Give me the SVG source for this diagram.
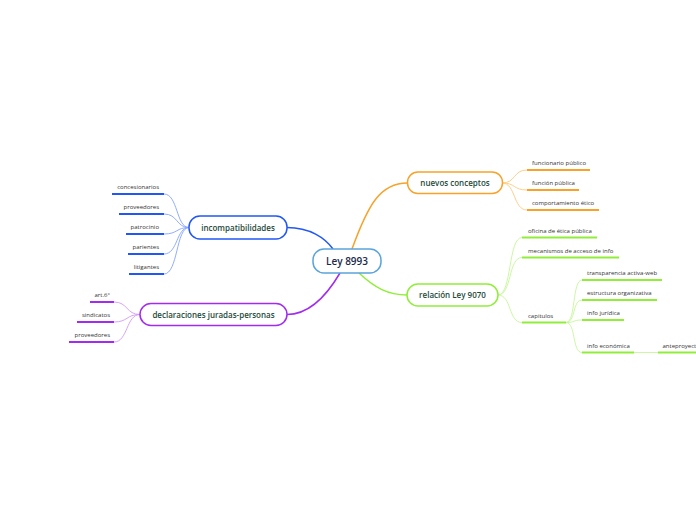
<svg xmlns="http://www.w3.org/2000/svg" width="696" height="520" viewBox="0 0 696 520">
<style>
.bg{fill:#ffffff}
.node{fill:#ffffff;stroke-width:1.5}
.main{font-family:"Open Sans","Noto Sans",sans-serif;font-size:8px;font-weight:600;fill:#1d4a3a;text-anchor:middle}
.root{font-family:"Open Sans","Noto Sans",sans-serif;font-size:10px;font-weight:600;fill:#1b2a4a;text-anchor:middle}
.leaf{font-family:"Open Sans","Noto Sans",sans-serif;font-size:6px;fill:#333333}
.end{text-anchor:end}
.conn{fill:none;stroke-width:1.5}
.lc{fill:none;stroke-width:0.9}
.ul{fill:none;stroke-width:2}
.blue{stroke:#2257f5}.lblue{stroke:#86a4fb}
.purple{stroke:#a12cf0}.lpurple{stroke:#d39af7}
.orange{stroke:#f8a22a}.lorange{stroke:#fcca7e}
.green{stroke:#90ee3a}.lgreen{stroke:#c6f69a}
</style>
<rect class="bg" x="0" y="0" width="696" height="520"/>
<g id="connectors">
<path class="conn blue" d="M287,227.5 C310,227.5 325,238 333,249"/>
<path class="conn purple" d="M287,314.5 C312,314.5 330,290 340,273"/>
<path class="conn orange" d="M352,249 C368,205 380,183 407.5,183"/>
<path class="conn green" d="M359,273 C375,288 388,295 407,295"/>
<path class="lc lblue" d="M164,194 C178,194 176,227.5 189,227.5"/>
<path class="lc lblue" d="M164,214 C178,214 176,227.5 189,227.5"/>
<path class="lc lblue" d="M164,234 C178,234 176,227.5 189,227.5"/>
<path class="lc lblue" d="M164,254 C178,254 176,227.5 189,227.5"/>
<path class="lc lblue" d="M164,274 C178,274 176,227.5 189,227.5"/>
<path class="lc lpurple" d="M114,302 C128,302 126,314.5 140,314.5"/>
<path class="lc lpurple" d="M114,322 C128,322 126,314.5 140,314.5"/>
<path class="lc lpurple" d="M114,342 C128,342 126,314.5 140,314.5"/>
<path class="lc lorange" d="M502,183 C516,183 513,170 527,170"/>
<path class="lc lorange" d="M502,183 C516,183 513,190 527,190"/>
<path class="lc lorange" d="M502,183 C516,183 513,210 527,210"/>
<path class="lc lgreen" d="M498,295 C512,295 508,237.5 522,237.5"/>
<path class="lc lgreen" d="M498,295 C512,295 508,257.5 522,257.5"/>
<path class="lc lgreen" d="M498,295 C512,295 508,322.5 522,322.5"/>
<path class="lc lgreen" d="M566,322.5 C576,322.5 572,280 582,280"/>
<path class="lc lgreen" d="M566,322.5 C576,322.5 572,300 582,300"/>
<path class="lc lgreen" d="M566,322.5 C576,322.5 572,320 582,320"/>
<path class="lc lgreen" d="M566,322.5 C576,322.5 572,352.5 582,352.5"/>
<path class="lc lgreen" d="M634,352.5 L658,352.5"/>
</g>
<g id="root">
<rect class="node" x="313" y="249" width="68" height="24" rx="11" stroke="#5aa4dc"/>
<text class="root" x="347" y="264.5">Ley 8993</text>
</g>
<g id="incompatibilidades">
<rect class="node blue" x="189" y="216" width="98" height="23" rx="11"/>
<text class="main" x="238" y="230.5">incompatibilidades</text>
</g>
<g id="declaraciones">
<rect class="node purple" x="140" y="303.5" width="147" height="22" rx="11"/>
<text class="main" x="213.5" y="317.5">declaraciones juradas-personas</text>
</g>
<g id="nuevos">
<rect class="node orange" x="407.5" y="172" width="95" height="21.5" rx="10.5"/>
<text class="main" x="455" y="185.8">nuevos conceptos</text>
</g>
<g id="relacion">
<rect class="node green" x="407" y="284" width="91" height="22" rx="11"/>
<text class="main" x="452.5" y="298">relación Ley 9070</text>
</g>
<g id="leaf-concesionarios"><path class="ul blue" d="M112,194 H164"/><text class="leaf end" x="159" y="189">concesionarios</text></g>
<g id="leaf-proveedores1"><path class="ul blue" d="M119,214 H164"/><text class="leaf end" x="159" y="209">proveedores</text></g>
<g id="leaf-patrocinio"><path class="ul blue" d="M126,234 H164"/><text class="leaf end" x="159" y="229">patrocinio</text></g>
<g id="leaf-parientes"><path class="ul blue" d="M128,254 H164"/><text class="leaf end" x="159" y="249">parientes</text></g>
<g id="leaf-litigantes"><path class="ul blue" d="M129,274 H164"/><text class="leaf end" x="159" y="269">litigantes</text></g>
<g id="leaf-art6"><path class="ul purple" d="M90,302 H114"/><text class="leaf end" x="110" y="297">art.6°</text></g>
<g id="leaf-sindicatos"><path class="ul purple" d="M77,322 H114"/><text class="leaf end" x="110" y="317">sindicatos</text></g>
<g id="leaf-proveedores2"><path class="ul purple" d="M69,342 H114"/><text class="leaf end" x="110" y="337">proveedores</text></g>
<g id="leaf-funcionario"><path class="ul orange" d="M527,170 H590"/><text class="leaf" x="532" y="165">funcionario público</text></g>
<g id="leaf-funcion"><path class="ul orange" d="M527,190 H579"/><text class="leaf" x="532" y="185">función pública</text></g>
<g id="leaf-comportamiento"><path class="ul orange" d="M527,210 H599"/><text class="leaf" x="532" y="205">comportamiento ético</text></g>
<g id="leaf-oficina"><path class="ul green" d="M522,237.5 H597"/><text class="leaf" x="528" y="232.5">oficina de ética pública</text></g>
<g id="leaf-mecanismos"><path class="ul green" d="M522,257.5 H619"/><text class="leaf" x="528" y="252.5">mecanismos de acceso de info</text></g>
<g id="leaf-capitulos"><path class="ul green" d="M522,322.5 H566"/><text class="leaf" x="528" y="317.5">capitulos</text></g>
<g id="leaf-transparencia"><path class="ul green" d="M582,280 H662"/><text class="leaf" x="587" y="275">transparencia activa-web</text></g>
<g id="leaf-estructura"><path class="ul green" d="M582,300 H657"/><text class="leaf" x="587" y="295">estructura organizativa</text></g>
<g id="leaf-juridica"><path class="ul green" d="M582,320 H624"/><text class="leaf" x="587" y="315">info jurídica</text></g>
<g id="leaf-economica"><path class="ul green" d="M582,352.5 H634"/><text class="leaf" x="587" y="347.5">info económica</text></g>
<g id="leaf-anteproyecto"><path class="ul green" d="M658,352.5 H696"/><text class="leaf" x="662.5" y="347.5">anteproyect</text></g>
</svg>
